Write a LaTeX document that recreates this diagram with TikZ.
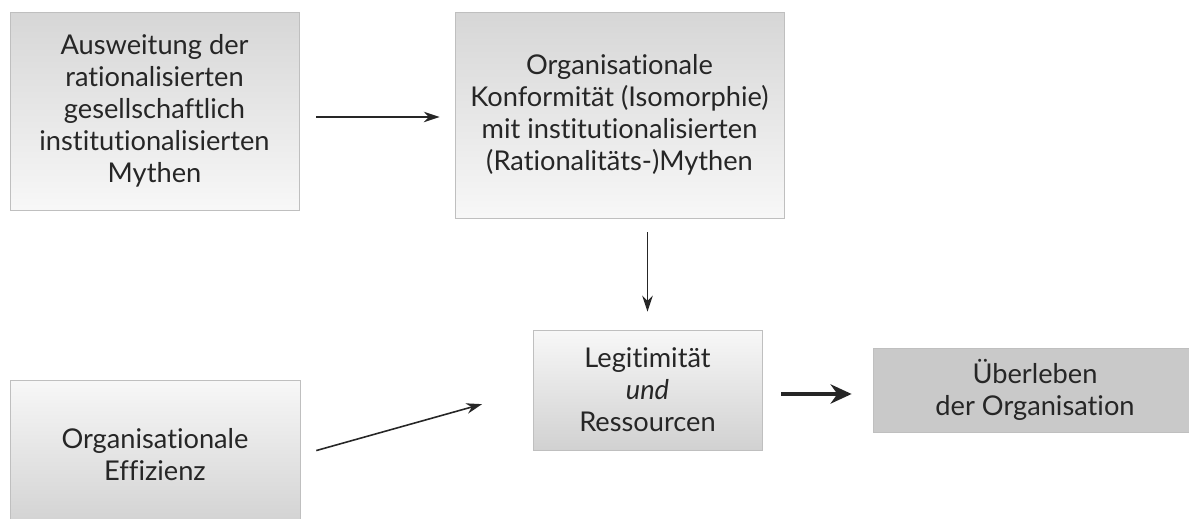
\documentclass[tikz,border=0pt]{standalone}
\usepackage{fontspec}
\setmainfont[Ligatures=NoCommon]{Lato}
\usepackage{tikz}
\usetikzlibrary{arrows.meta}

\begin{document}
\begin{tikzpicture}[x=0.02cm, y=-0.02cm,
    box/.style={draw=black!25, line width=0.5pt, align=center, inner sep=2pt,
      font=\fontsize{15.5}{18.2}\selectfont, text=black!85},
    downshade/.style={shading=axis, top color=black!16, bottom color=black!3},
    upshade/.style={shading=axis, top color=black!3, bottom color=black!18},
    arr/.style={-{Stealth[length=9pt, width=6pt]}, line width=0.9pt, black!85}]
    \useasboundingbox (0,0) rectangle (1189,519);
    \node[box, downshade, minimum width=5.78cm, minimum height=3.96cm] (myth) at (154.5,111)
      {Ausweitung der\\rationalisierten\\gesellschaftlich\\institutionalisierten\\Mythen};
    \node[box, downshade, minimum width=6.58cm, minimum height=4.12cm] (konf) at (619.5,115)
      {Organisationale\\Konformität (Isomorphie)\\mit institutionalisierten\\(Rationalitäts-)Mythen};
    \node[box, upshade, minimum width=5.8cm, minimum height=3.0cm] (eff) at (155,455)
      {Organisationale\\Effizienz};
    \node[box, upshade, minimum width=4.58cm, minimum height=2.4cm] (legit) at (647.5,390)
      {Legitimität\\\textit{und}\\Ressourcen};
    \node[box, fill=black!21, minimum width=6.48cm, minimum height=1.68cm] (surv) at (1035,390)
      {Überleben\\der Organisation};
    \draw[arr, shorten <=0.34cm, shorten >=0.3cm] ([yshift=-0.12cm]myth.east) -- ([yshift=-0.12cm]myth.east -| konf.west);
    \draw[arr, shorten <=0.28cm, shorten >=0.36cm] (legit.north |- konf.south) -- (legit.north);
    \draw[arr, shorten <=0.33cm, shorten >=1.05cm] (eff.east) -- (legit.west);
    \draw[arr, -{Stealth[length=12pt, width=11pt]}, line width=1.8pt, shorten <=0.38cm, shorten >=0.42cm] ([yshift=-0.08cm]legit.east) -- ([yshift=-0.08cm]legit.east -| surv.west);
\end{tikzpicture}
\end{document}
